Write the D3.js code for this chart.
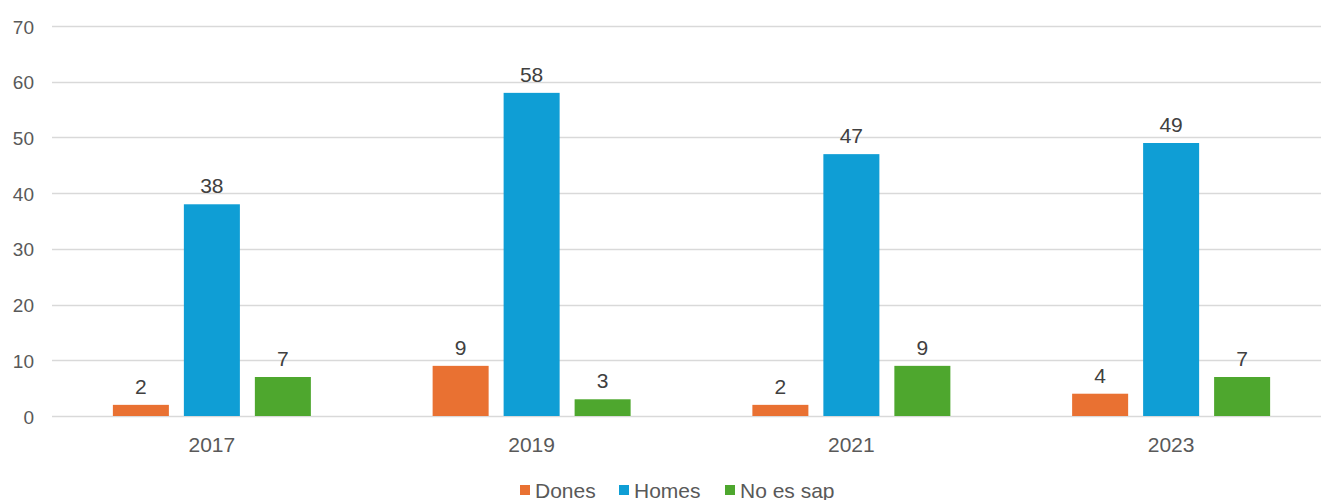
<!DOCTYPE html>
<html>
<head>
<meta charset="utf-8">
<script src="https://cdn.jsdelivr.net/npm/d3@7"></script>
<style>
body { margin: 0; background: #fff; }
text { font-family: "Liberation Sans", Arial, sans-serif; }
</style>
</head>
<body>
<div id="viz"></div>
<script>
var years = ["2017", "2019", "2021", "2023"];
var seriesNames = ["Dones", "Homes", "No es sap"];
var dones = [2, 9, 2, 4];
var homes = [38, 58, 47, 49];
var noEsSap = [7, 3, 9, 7];
var yTicks = [0, 10, 20, 30, 40, 50, 60, 70];
var colors = ["#E97132", "#0F9ED5", "#4EA72E"];

var width = 1321, height = 500;
var svg = d3.select("#viz")
    .append("svg")
    .attr("width", width)
    .attr("height", height);

var y = d3.scaleLinear().domain([0, 70]).range([416, 26]);
var x0 = d3.scaleBand().domain(years).range([52, 1331]).padding(0);
var x1 = d3.scaleBand().domain(seriesNames)
    .range([x0.bandwidth() / 2 - 99, x0.bandwidth() / 2 + 99])
    .paddingInner(0.211).paddingOuter(0);

// gridlines
svg.append("g")
    .selectAll("line")
    .data(yTicks)
    .enter()
    .append("line")
    .attr("x1", 52)
    .attr("x2", width)
    .attr("y1", function(d) { return Math.round(y(d)) + 0.5; })
    .attr("y2", function(d) { return Math.round(y(d)) + 0.5; })
    .style("stroke", "#d9d9d9")
    .style("stroke-width", 1.3);

// y axis labels
var yAxis = d3.axisLeft(y).tickValues(yTicks).tickSize(0).tickPadding(0);
var gy = svg.append("g").attr("transform", "translate(34,1)").call(yAxis);
gy.select(".domain").remove();
gy.selectAll("text")
    .style("font-size", "19px")
    .style("fill", "#595959")
    .style("font-family", "'Liberation Sans', Arial, sans-serif");

// x axis labels
var xAxis = d3.axisBottom(x0).tickSize(0).tickPadding(0);
var gx = svg.append("g").attr("transform", "translate(0,0)").call(xAxis);
gx.select(".domain").remove();
gx.selectAll("text")
    .attr("y", 452)
    .attr("dy", null)
    .style("font-size", "21px")
    .style("fill", "#595959")
    .style("font-family", "'Liberation Sans', Arial, sans-serif");

var allSeries = [dones, homes, noEsSap];
var rows = [];
years.forEach(function(yr, i) {
    seriesNames.forEach(function(s, j) {
        rows.push({ year: yr, name: s, value: allSeries[j][i], color: colors[j] });
    });
});

var groups = svg.append("g");
groups.selectAll("rect")
    .data(rows)
    .enter()
    .append("rect")
    .attr("x", function(d) { return x0(d.year) + x1(d.name); })
    .attr("y", function(d) { return y(d.value); })
    .attr("width", x1.bandwidth())
    .attr("height", function(d) { return y(0) - y(d.value); })
    .style("fill", function(d) { return d.color; });

groups.selectAll("text")
    .data(rows)
    .enter()
    .append("text")
    .attr("x", function(d) { return x0(d.year) + x1(d.name) + x1.bandwidth() / 2; })
    .attr("y", function(d) { return y(d.value) - 11; })
    .attr("text-anchor", "middle")
    .style("font-size", "21px")
    .style("fill", "#404040")
    .text(function(d) { return d.value; });

// legend
var legendX = [520, 619, 725];
var legend = svg.append("g")
    .selectAll("g")
    .data(seriesNames)
    .enter()
    .append("g")
    .attr("transform", function(d, i) { return "translate(" + legendX[i] + ",0)"; });
legend.append("rect")
    .attr("x", 0).attr("y", 485)
    .attr("width", 10).attr("height", 10)
    .style("fill", function(d, i) { return colors[i]; });
legend.append("text")
    .attr("x", 15).attr("y", 498)
    .style("font-size", "21px")
    .style("fill", "#595959")
    .text(function(d) { return d; });
</script>
</body>
</html>
